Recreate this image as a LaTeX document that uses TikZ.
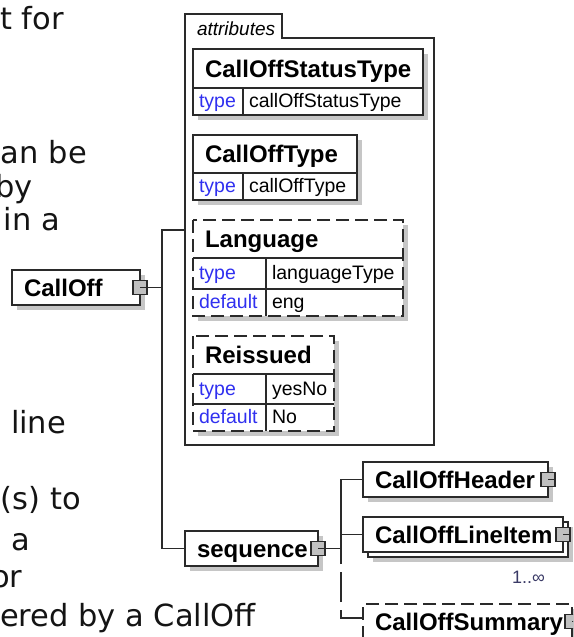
\documentclass[tikz,border=0pt]{standalone}
\usepackage{fontspec}
\setmainfont{Liberation Sans}
\newfontfamily\verd{DejaVu Sans}
\usetikzlibrary{calc,backgrounds}
\definecolor{keyblue}{HTML}{3030F0}
\definecolor{shad}{HTML}{C6C6C6}
\definecolor{sqgray}{HTML}{C0C0C0}
\definecolor{occ}{HTML}{3A3A66}
\definecolor{ln}{HTML}{2A2A2A}
\definecolor{txt}{HTML}{141414}
\begin{document}
\begin{tikzpicture}[x=1pt,y=-1pt,
  every node/.style={inner sep=0pt, outer sep=0pt},
  bline/.style={draw=ln, line width=1.1pt},
  dbox/.style={draw=ln, line width=1.1pt, dash pattern=on 13pt off 6pt},
  lefttext/.style={anchor=base west, font=\verd\fontsize{30.5}{36}\selectfont, text=txt},
  elem/.style={draw=ln, line width=1.1pt, fill=white, anchor=north west, minimum height=35pt,
     font=\bfseries\fontsize{24}{24}\selectfont, align=left, inner xsep=12pt,
     text height=17pt, text depth=0pt, text=black},
  ahead/.style={fill=white, anchor=north west, font=\bfseries\fontsize{24}{24}\selectfont,
     align=left, inner xsep=12pt, text height=17pt, text depth=0pt, text=black},
  akey/.style={fill=white, anchor=north west, font=\fontsize{19.5}{19.5}\selectfont,
     align=left, inner xsep=6pt, text height=15.5pt, text depth=3.5pt, text=keyblue},
  aval/.style={akey, text=black},
  sqbox/.style={draw=ln, line width=1.1pt, fill=sqgray, minimum size=14pt, inner sep=0pt}
]
\useasboundingbox (0,0) rectangle (573,637);
\clip (0,0) rectangle (573,637);

% ---- surrounding page text (cut off) ----
\node[lefttext] (l1) at (0,29) {t for};
\node[lefttext] (l2) at (1,163) {an be};
\node[lefttext] (l3) at (-5,197) {by};
\node[lefttext] (l4) at (4,230) {in a};
\node[lefttext] (l5) at (11,433) {line};
\node[lefttext] (l6) at (1,509) {(s) to};
\node[lefttext] (l7) at (12,550) {a};
\node[lefttext] (l8) at (-9,587) {or};
\node[lefttext] (l9) at (0,626) {ered by a CallOff};

% ---- attributes group ----
\node[anchor=north west, minimum width=249pt, minimum height=407pt] (attr) at (185,38) {};
\node[anchor=north west, minimum width=97pt, minimum height=24pt] (attrtab) at (185,14) {};
\node[anchor=base west, font=\itshape\fontsize{19}{19}\selectfont, text=black] (attrlbl)
   at ($(attrtab.south west)+(12,-3)$) {attributes};
\draw[bline] (attr.south west) -- (attrtab.north west) -- (attrtab.north east)
   -- (attrtab.south east) -- (attr.north east) -- (attr.south east) -- cycle;

% CallOffStatusType
\node[ahead, minimum height=39pt, text width=206pt] (cst) at (193,49) {CallOffStatusType};
\node[akey, minimum height=27pt, text width=38pt] (cstk) at (193,88) {type};
\node[aval, minimum height=27pt, text width=168pt] (cstv) at (243,88) {callOffStatusType};
\draw[bline] (cst.south west) -- (cst.south east);
\draw[bline] (cstk.north east) -- (cstk.south east);
\draw[bline] (cst.north west) rectangle (cstv.south east);

% CallOffType
\node[ahead, minimum height=38pt, text width=140pt] (cot) at (193,135) {CallOffType};
\node[akey, minimum height=27pt, text width=38pt] (cotk) at (193,173) {type};
\node[aval, minimum height=27pt, text width=102pt] (cotv) at (243,173) {callOffType};
\draw[bline] (cot.south west) -- (cot.south east);
\draw[bline] (cotk.north east) -- (cotk.south east);
\draw[bline] (cot.north west) rectangle (cotv.south east);

% Language
\node[ahead, minimum height=38pt, text width=186pt] (lang) at (193,220) {Language};
\node[akey, minimum height=31pt, text width=61pt] (langk1) at (193,258) {type};
\node[aval, minimum height=31pt, text width=125pt] (langv1) at (266,258) {languageType};
\node[akey, minimum height=27pt, text width=61pt] (langk2) at (193,289) {default};
\node[aval, minimum height=27pt, text width=125pt] (langv2) at (266,289) {eng};
\draw[bline] (lang.south west) -- (lang.south east);
\draw[bline] (langk1.south west) -- (langv1.south east);
\draw[bline] (langk1.north east) -- (langk2.south east);
\draw[dbox] (lang.north west) rectangle (langv2.south east);

% Reissued
\node[ahead, minimum height=38pt, text width=117pt] (reis) at (193,336) {Reissued};
\node[akey, minimum height=30pt, text width=61pt] (reisk1) at (193,374) {type};
\node[aval, minimum height=30pt, text width=56pt] (reisv1) at (266,374) {yesNo};
\node[akey, minimum height=27pt, text width=61pt] (reisk2) at (193,404) {default};
\node[aval, minimum height=27pt, text width=56pt] (reisv2) at (266,404) {No};
\draw[bline] (reis.south west) -- (reis.south east);
\draw[bline] (reisk1.south west) -- (reisv1.south east);
\draw[bline] (reisk1.north east) -- (reisk2.south east);
\draw[dbox] (reis.north west) rectangle (reisv2.south east);

% ---- element boxes ----
\node[elem, text width=104pt] (calloff) at (12,270) {CallOff};
\node[elem, text width=109pt] (seq) at (185,531) {sequence};
\node[elem, text width=161pt] (hdr) at (363,462) {CallOffHeader};
\node[elem, text width=176pt] (liback) at (368,522) {};
\node[elem, text width=176pt] (li) at (363,517) {CallOffLineItem};
\node[elem, dash pattern=on 13pt off 6pt, text width=185pt] (sum) at (363,604) {CallOffSummary};
\node[anchor=base east, font=\fontsize{18}{18}\selectfont, text=occ] (occ) at (545,583) {1..∞};

% ---- shadows ----
\begin{scope}[on background layer]
  \foreach \a/\b in {cst/cstv, cot/cotv, lang/langv2, reis/reisv2,
                     calloff/calloff, seq/seq, hdr/hdr, liback/liback, sum/sum}
    \fill[shad] ([shift={(5,5)}]\a.north west) rectangle ([shift={(5,5)}]\b.south east);
\end{scope}

% ---- connectors ----
\coordinate (tr1) at (162,0);
\coordinate (tr2) at (341,0);
\coordinate (attrin) at ($(attr.north west)+(0,192)$);
\coordinate (sumin) at ($(sum.north west)+(0,14)$);

\node[sqbox] (sq1) at (calloff.east) {};
\draw[bline] (sq1.center) -- (sq1.center -| tr1);
\draw[bline] (attrin) -- (attrin -| tr1) -- (seq.west -| tr1) -- (seq.west);

\node[sqbox] (sq2) at (seq.east) {};
\draw[bline] (sq2.center) -- (sq2.center -| tr2);
\draw[bline] (hdr.west) -- (hdr.west -| tr2) -- (sq2.center -| tr2);
\draw[bline] (li.west -| tr2) -- (li.west);
\draw[bline, dash pattern=on 30pt off 8pt] (sumin) -- (sumin -| tr2) -- (sq2.center -| tr2);

\node[sqbox] (sq3) at (hdr.east) {};
\draw[bline] (sq3.center) -- (sq3.east);
\node[sqbox] (sq4) at (li.east) {};
\draw[bline] (sq4.center) -- (sq4.east);
\node[sqbox] (sq5) at (sum.east) {};
\draw[bline] (sq5.center) -- (sq5.east);
\end{tikzpicture}
\end{document}
